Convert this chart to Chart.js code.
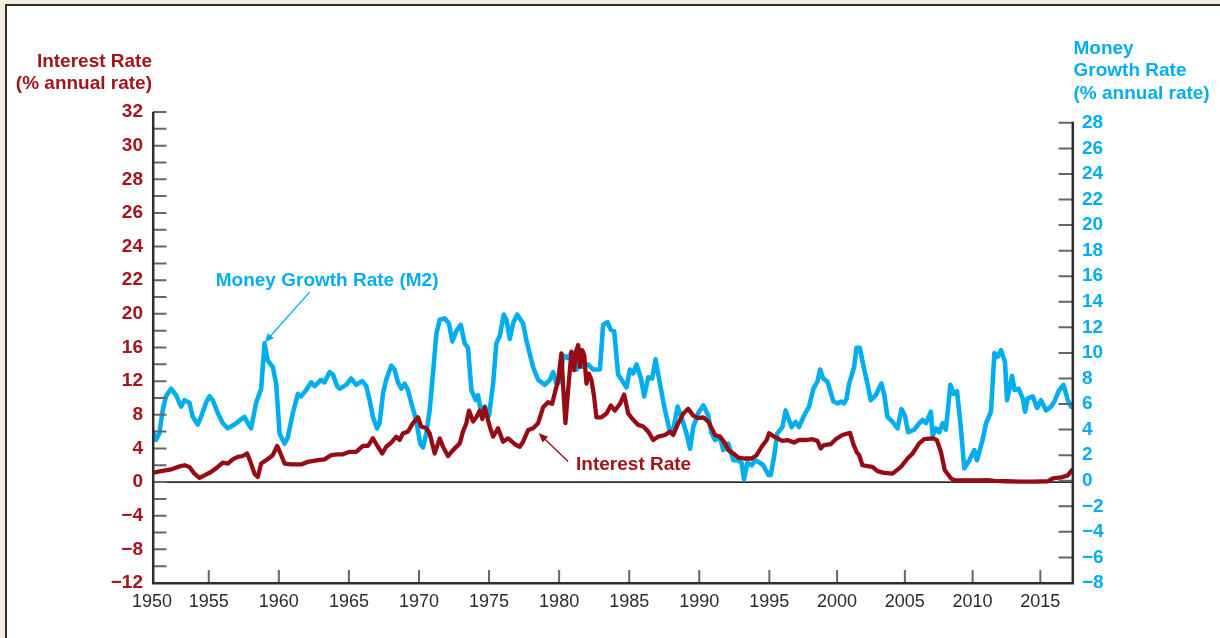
<!DOCTYPE html>
<html>
<head>
<meta charset="utf-8">
<title>Interest Rate and Money Growth Rate</title>
<script src="https://cdn.jsdelivr.net/npm/chart.js@4.4.1/dist/chart.umd.min.js"></script>
<style>
  html, body { margin: 0; padding: 0; background: #f3ede0; }
  #wrap { position: relative; width: 1220px; height: 638px; overflow: hidden; }
  #panel { position: absolute; left: 5px; top: 4px; right: -10px; bottom: -10px;
           background: #ffffff; border-left: 2px solid #2e2e2e; border-top: 2px solid #2e2e2e; }
  #chart { position: absolute; left: 0; top: 0; width: 1220px; height: 638px; }
</style>
</head>
<body>
<div id="wrap">
  <div id="panel"></div>
  <canvas id="chart" width="1220" height="638"></canvas>
</div>
<script>
// ---- Data -------------------------------------------------------------
// Money growth rate (M2), % annual rate
const m2Years = [
  1950.00, 1950.35, 1950.65, 1950.94, 1951.23, 1951.68, 1952.12, 1952.56, 1952.86, 1953.30,
  1953.59, 1954.03, 1954.32, 1954.76, 1955.05, 1955.29, 1955.64, 1956.00, 1956.36, 1956.84,
  1957.19, 1957.55, 1957.79, 1958.02, 1958.38, 1958.74, 1958.98, 1959.21, 1959.57, 1959.81,
  1960.05, 1960.41, 1960.64, 1961.00, 1961.36, 1961.59, 1961.95, 1962.31, 1962.55, 1963.02,
  1963.26, 1963.62, 1963.86, 1964.16, 1964.34, 1964.81, 1965.16, 1965.52, 1965.95, 1966.24,
  1966.48, 1966.71, 1967.00, 1967.19, 1967.43, 1967.66, 1968.02, 1968.26, 1968.50, 1968.74,
  1968.98, 1969.21, 1969.45, 1969.81, 1970.09, 1970.29, 1970.52, 1970.76, 1971.00, 1971.24,
  1971.48, 1971.84, 1972.14, 1972.38, 1972.66, 1972.98, 1973.26, 1973.50, 1973.74, 1974.05,
  1974.21, 1974.41, 1974.69, 1975.00, 1975.29, 1975.52, 1975.76, 1976.05, 1976.24, 1976.48,
  1976.71, 1977.00, 1977.43, 1977.66, 1978.14, 1978.50, 1978.98, 1979.34, 1979.57, 1979.81,
  1980.05, 1980.29, 1980.59, 1980.88, 1981.24, 1981.48, 1981.71, 1982.07, 1982.43, 1982.91,
  1983.14, 1983.45, 1983.69, 1983.93, 1984.21, 1984.57, 1984.81, 1985.05, 1985.29, 1985.52,
  1985.84, 1986.07, 1986.36, 1986.64, 1986.88, 1987.19, 1987.50, 1987.91, 1988.14, 1988.45,
  1988.79, 1989.09, 1989.34, 1989.57, 1989.93, 1990.29, 1990.64, 1990.88, 1991.12, 1991.48,
  1991.71, 1992.07, 1992.43, 1992.79, 1993.02, 1993.19, 1993.43, 1993.74, 1993.98, 1994.34,
  1994.57, 1994.93, 1995.10, 1995.35, 1995.59, 1995.96, 1996.20, 1996.45, 1996.64, 1996.94,
  1997.19, 1997.56, 1997.93, 1998.25, 1998.55, 1998.75, 1998.97, 1999.29, 1999.73, 2000.03,
  2000.27, 2000.52, 2000.69, 2000.89, 2001.26, 2001.43, 2001.67, 2002.00, 2002.24, 2002.48,
  2002.85, 2003.27, 2003.47, 2003.72, 2004.09, 2004.46, 2004.75, 2005.00, 2005.25, 2005.69,
  2006.06, 2006.31, 2006.55, 2006.92, 2007.05, 2007.29, 2007.54, 2007.79, 2008.03, 2008.36,
  2008.60, 2008.85, 2009.10, 2009.39, 2009.76, 2010.13, 2010.32, 2010.74, 2010.99, 2011.36,
  2011.61, 2011.85, 2012.10, 2012.39, 2012.54, 2012.91, 2013.09, 2013.40, 2013.70, 2013.87,
  2014.07, 2014.44, 2014.76, 2015.05, 2015.42, 2015.79, 2016.04, 2016.34, 2016.71, 2017.03,
  2017.27
];
const m2Growth = [
  4.0, 3.2, 3.7, 5.5, 6.6, 7.2, 6.7, 5.8, 6.3, 6.1,
  5.0, 4.4, 5.0, 6.1, 6.6, 6.3, 5.3, 4.5, 4.1, 4.4,
  4.7, 5.0, 4.5, 4.1, 6.1, 7.2, 10.75, 9.4, 8.9, 7.6,
  3.7, 2.9, 3.4, 5.3, 6.8, 6.6, 7.1, 7.7, 7.4, 7.9,
  7.7, 8.5, 8.3, 7.4, 7.2, 7.5, 8.0, 7.5, 7.8, 7.4,
  6.3, 5.0, 4.1, 4.5, 6.8, 7.9, 9.0, 8.7, 7.7, 7.2,
  7.6, 7.1, 6.1, 4.7, 2.9, 2.6, 3.7, 5.5, 8.4, 11.5,
  12.6, 12.7, 12.3, 10.9, 11.7, 12.2, 10.75, 10.4, 7.1, 6.3,
  6.7, 5.5, 5.8, 5.1, 7.6, 10.75, 11.3, 13.0, 12.6, 11.1,
  12.3, 13.0, 12.3, 11.0, 8.9, 7.9, 7.5, 7.9, 8.5, 7.6,
  7.7, 9.8, 9.6, 10.0, 8.7, 10.2, 8.9, 9.1, 8.7, 8.7,
  12.2, 12.4, 11.8, 11.7, 8.3, 7.7, 7.3, 8.7, 8.4, 9.1,
  8.0, 6.6, 8.1, 8.0, 9.5, 7.6, 5.8, 3.8, 4.0, 5.8,
  4.75, 3.7, 2.5, 4.2, 5.3, 5.9, 5.1, 3.7, 3.2, 3.4,
  2.4, 2.9, 1.6, 1.6, 1.4, 0.1, 1.4, 1.2, 1.6, 1.4,
  1.2, 0.45, 0.45, 1.9, 3.7, 4.2, 5.5, 4.75, 4.2, 4.6,
  4.2, 5.1, 5.8, 7.2, 7.75, 8.7, 8.0, 7.75, 6.2, 6.05,
  6.2, 6.05, 6.4, 7.6, 8.9, 10.4, 10.4, 8.7, 7.6, 6.3,
  6.7, 7.6, 6.8, 5.0, 4.6, 4.1, 5.6, 5.1, 3.8, 4.0,
  4.5, 4.75, 4.5, 5.4, 3.5, 4.1, 3.8, 4.5, 4.0, 7.5,
  6.8, 7.0, 4.5, 0.97, 1.6, 2.4, 1.6, 3.2, 4.5, 5.4,
  10.0, 9.7, 10.2, 9.3, 6.3, 8.2, 7.1, 7.2, 6.45, 5.4,
  6.45, 6.6, 5.7, 6.3, 5.5, 5.8, 6.2, 7.0, 7.5, 6.3,
  5.8
];

// Interest rate, % annual rate
const rateYears = [
  1950.00, 1950.79, 1951.68, 1952.27, 1952.86, 1953.30, 1953.74, 1954.18, 1954.62, 1955.16,
  1955.64, 1956.00, 1956.36, 1956.71, 1957.07, 1957.43, 1957.74, 1958.02, 1958.26, 1958.50,
  1958.74, 1959.09, 1959.57, 1959.88, 1960.12, 1960.41, 1960.88, 1961.59, 1962.07, 1962.79,
  1963.26, 1963.74, 1964.16, 1964.57, 1965.05, 1965.52, 1966.00, 1966.36, 1966.71, 1967.07,
  1967.38, 1967.66, 1968.02, 1968.38, 1968.62, 1968.86, 1969.21, 1969.57, 1969.93, 1970.16,
  1970.52, 1970.76, 1971.12, 1971.48, 1971.71, 1972.07, 1972.43, 1972.91, 1973.14, 1973.38,
  1973.57, 1973.86, 1974.09, 1974.34, 1974.52, 1974.69, 1975.05, 1975.29, 1975.64, 1976.00,
  1976.36, 1976.84, 1977.19, 1977.43, 1977.79, 1978.14, 1978.50, 1978.86, 1979.21, 1979.50,
  1979.74, 1979.93, 1980.16, 1980.29, 1980.45, 1980.64, 1980.88, 1981.07, 1981.16, 1981.36,
  1981.48, 1981.64, 1981.79, 1981.95, 1982.12, 1982.31, 1982.50, 1982.66, 1983.02, 1983.38,
  1983.69, 1983.98, 1984.34, 1984.64, 1984.93, 1985.29, 1985.64, 1986.00, 1986.36, 1986.71,
  1987.07, 1987.55, 1987.91, 1988.14, 1988.50, 1988.86, 1989.21, 1989.57, 1989.93, 1990.29,
  1990.64, 1990.76, 1991.12, 1991.48, 1991.84, 1992.07, 1992.43, 1992.79, 1993.26, 1993.74,
  1994.09, 1994.45, 1994.81, 1994.98, 1995.35, 1995.96, 1996.33, 1996.82, 1997.19, 1997.68,
  1998.18, 1998.55, 1998.79, 1999.04, 1999.53, 1999.90, 2000.39, 2000.96, 2001.18, 2001.43,
  2001.63, 2001.87, 2002.24, 2002.61, 2002.98, 2003.47, 2004.09, 2004.71, 2005.20, 2005.57,
  2006.06, 2006.43, 2007.05, 2007.36, 2007.66, 2007.95, 2008.40, 2008.65, 2009.50, 2010.50,
  2011.11, 2011.61, 2012.50, 2013.50, 2014.50, 2015.55, 2015.92, 2016.53, 2017.03, 2017.32
];
const rateLevels = [
  1.1, 1.3, 1.5, 1.8, 2.0, 1.8, 1.0, 0.5, 0.8, 1.2,
  1.8, 2.3, 2.2, 2.7, 3.0, 3.1, 3.4, 2.2, 1.0, 0.6,
  2.2, 2.6, 3.2, 4.3, 3.4, 2.2, 2.1, 2.1, 2.4, 2.6,
  2.7, 3.2, 3.3, 3.3, 3.6, 3.6, 4.3, 4.3, 5.2, 4.2,
  3.4, 4.2, 4.7, 5.4, 5.0, 5.8, 6.0, 7.0, 7.7, 6.6,
  6.4, 5.8, 3.4, 5.2, 4.2, 3.1, 3.8, 4.6, 6.0, 7.0,
  8.5, 7.2, 7.7, 8.5, 7.5, 8.9, 6.6, 5.4, 6.4, 4.8,
  5.2, 4.5, 4.2, 4.8, 6.2, 6.4, 7.0, 8.9, 9.5, 9.3,
  10.9, 12.1, 15.3, 11.3, 7.0, 10.9, 15.5, 13.3, 15.3, 16.3,
  13.7, 15.7, 15.1, 11.7, 12.9, 12.1, 10.1, 7.7, 7.7, 8.15,
  9.1, 8.5, 9.3, 10.4, 8.15, 7.4, 6.8, 6.6, 6.0, 5.0,
  5.4, 5.6, 6.0, 5.6, 7.0, 8.15, 8.7, 7.9, 7.6, 7.7,
  7.2, 6.8, 5.6, 5.4, 4.6, 3.8, 3.4, 2.9, 2.8, 2.8,
  3.2, 4.2, 5.0, 5.8, 5.4, 4.9, 5.0, 4.7, 5.0, 5.0,
  5.1, 4.9, 4.0, 4.4, 4.5, 5.1, 5.6, 5.85, 4.6, 3.6,
  3.2, 2.0, 1.9, 1.8, 1.3, 1.1, 1.0, 1.8, 2.8, 3.4,
  4.6, 5.1, 5.2, 5.0, 3.6, 1.4, 0.45, 0.24, 0.2, 0.2,
  0.24, 0.15, 0.1, 0.06, 0.05, 0.1, 0.45, 0.55, 0.8, 1.4
];

// Axis tick labels
const yearTicks = [1950, 1955, 1960, 1965, 1970, 1975, 1980, 1985, 1990, 1995, 2000, 2005, 2010, 2015];
// left axis: one label per major tick, bottom to top
const rateTickLabels = ['\u221212', '\u22128', '\u22124', '0', '4', '8', '12', '16', '20', '22', '24', '26', '28', '30', '32'];
// right axis: bottom to top
const m2TickLabels = ['\u22128', '\u22126', '\u22124', '\u22122', '0', '2', '4', '6', '8', '10', '12', '14',
                      '16', '18', '20', '22', '24', '26', '28'];

// ---- Styles -----------------------------------------------------------
const RED = '#960c12';
const RED_TEXT = '#a3141c';
const BLUE = '#00aeef';
const AXIS = '#2e2e2e';
const TICK = '#666666';
const FAMILY = '"Liberation Sans", Arial, Helvetica, sans-serif';

// ---- Year axis whose spacing changes across sections of the time line ----
const YEAR_SEGMENTS = [
  { from: 1950, to: 1955, weight: 11.34 },
  { from: 1955, to: 1995, weight: 14.0 },
  { from: 1995, to: 2017.41, weight: 13.535 }
];
function segmentTotal() {
  return YEAR_SEGMENTS.reduce((t, s) => t + (s.to - s.from) * s.weight, 0);
}
function yearToFraction(v) {
  const total = segmentTotal();
  let acc = 0;
  for (const s of YEAR_SEGMENTS) {
    if (v <= s.to) return (acc + (v - s.from) * s.weight) / total;
    acc += (s.to - s.from) * s.weight;
  }
  const last = YEAR_SEGMENTS[YEAR_SEGMENTS.length - 1];
  return (acc + (v - last.to) * last.weight) / total;
}
function fractionToYear(f) {
  const target = f * segmentTotal();
  let acc = 0;
  for (const s of YEAR_SEGMENTS) {
    const len = (s.to - s.from) * s.weight;
    if (target <= acc + len) return s.from + (target - acc) / s.weight;
    acc += len;
  }
  const last = YEAR_SEGMENTS[YEAR_SEGMENTS.length - 1];
  return last.to + (target - acc) / last.weight;
}
class SegmentedYearScale extends Chart.LinearScale {
  getPixelForValue(value) {
    if (value === null || value === undefined || isNaN(value)) return NaN;
    return this.getPixelForDecimal(yearToFraction(value));
  }
  getValueForPixel(pixel) {
    return fractionToYear(this.getDecimalForPixel(pixel));
  }
}
SegmentedYearScale.id = 'segmentedYear';
SegmentedYearScale.defaults = {};
Chart.register(SegmentedYearScale);

// ---- Axes, frame lines, titles and call-outs ---------------------------
function arrow(ctx, x1, y1, x2, y2, color) {
  const ang = Math.atan2(y2 - y1, x2 - x1);
  const head = 9, half = 4;
  ctx.strokeStyle = color;
  ctx.fillStyle = color;
  ctx.lineWidth = 1.3;
  ctx.beginPath();
  ctx.moveTo(x1, y1);
  ctx.lineTo(x2 - Math.cos(ang) * head * 0.8, y2 - Math.sin(ang) * head * 0.8);
  ctx.stroke();
  ctx.beginPath();
  ctx.moveTo(x2, y2);
  ctx.lineTo(x2 - Math.cos(ang) * head + Math.sin(ang) * half, y2 - Math.sin(ang) * head - Math.cos(ang) * half);
  ctx.lineTo(x2 - Math.cos(ang) * head - Math.sin(ang) * half, y2 - Math.sin(ang) * head + Math.cos(ang) * half);
  ctx.closePath();
  ctx.fill();
}

const axisFrame = {
  id: 'axisFrame',
  beforeDatasetsDraw(chart) {
    const { ctx, chartArea: a, scales: { y } } = chart;
    const y0 = y.getPixelForValue(0);
    ctx.save();
    ctx.strokeStyle = AXIS;
    ctx.lineWidth = 1.8;
    ctx.beginPath();
    ctx.moveTo(a.left, y0);
    ctx.lineTo(a.right, y0);
    ctx.stroke();
    ctx.restore();
  },
  afterDraw(chart) {
    const { ctx, chartArea: a, scales: { x, y, y2 } } = chart;
    ctx.save();
    ctx.lineCap = 'butt';

    // tick marks pointing into the plot
    ctx.strokeStyle = TICK;
    ctx.lineWidth = 2;
    ctx.beginPath();
    y.ticks.forEach(t => {
      const py = y.getPixelForValue(t.value);
      ctx.moveTo(a.left + 1, py);
      ctx.lineTo(a.left + 14.5, py);
    });
    y2.ticks.forEach(t => {
      const py = y2.getPixelForValue(t.value);
      ctx.moveTo(a.right - 14.5, py);
      ctx.lineTo(a.right, py);
    });
    x.ticks.forEach((t, i) => {
      if (i === 0) return;
      const px = x.getPixelForValue(t.value);
      ctx.moveTo(px, a.bottom);
      ctx.lineTo(px, a.bottom - 13);
    });
    ctx.stroke();

    // axis lines
    ctx.strokeStyle = AXIS;
    ctx.lineWidth = 2.5;
    const rightTop = y2.getPixelForValue(y2.ticks[y2.ticks.length - 1].value);
    ctx.beginPath();
    ctx.moveTo(a.left + 1.2, a.top);
    ctx.lineTo(a.left + 1.2, a.bottom + 1.5);
    ctx.moveTo(a.left, a.bottom + 0.3);
    ctx.lineTo(a.right + 1, a.bottom + 0.3);
    ctx.moveTo(a.right - 0.2, rightTop - 1);
    ctx.lineTo(a.right - 0.2, a.bottom + 1.5);
    ctx.stroke();

    // axis titles
    ctx.font = 'bold 19px ' + FAMILY;
    ctx.textBaseline = 'middle';
    ctx.fillStyle = RED_TEXT;
    ctx.textAlign = 'right';
    ctx.fillText('Interest Rate', a.left, 62);
    ctx.fillText('(% annual rate)', a.left, 84);
    ctx.fillStyle = BLUE;
    ctx.textAlign = 'left';
    ctx.fillText('Money', a.right + 0.5, 49);
    ctx.fillText('Growth Rate', a.right + 0.5, 71);
    ctx.fillText('(% annual rate)', a.right + 0.5, 93.5);

    // call-outs
    ctx.fillStyle = BLUE;
    ctx.fillText('Money Growth Rate (M2)', x.getPixelForValue(1955.5), y2.getPixelForValue(15.64));
    arrow(ctx, x.getPixelForValue(1962.21), y2.getPixelForValue(14.78),
               x.getPixelForValue(1959.0), y2.getPixelForValue(10.83), BLUE);
    ctx.fillStyle = RED_TEXT;
    ctx.fillText('Interest Rate', x.getPixelForValue(1981.21), y.getPixelForValue(2.03));
    arrow(ctx, x.getPixelForValue(1980.64), y.getPixelForValue(2.45),
               x.getPixelForValue(1978.55), y.getPixelForValue(5.8), RED);
    ctx.restore();
  }
};

// ---- Chart ------------------------------------------------------------
const ratePoints = rateYears.map((yr, i) => ({ x: yr, y: rateLevels[i] }));
const m2Points = m2Years.map((yr, i) => ({ x: yr, y: m2Growth[i] }));

new Chart(document.getElementById('chart'), {
  type: 'line',
  data: {
    datasets: [
      {
        label: 'Interest Rate',
        data: ratePoints,
        yAxisID: 'y',
        borderColor: RED,
        borderWidth: 4.3,
        pointRadius: 0,
        tension: 0,
        borderJoinStyle: 'round',
        borderCapStyle: 'round'
      },
      {
        label: 'Money Growth Rate (M2)',
        data: m2Points,
        yAxisID: 'y2',
        borderColor: BLUE,
        borderWidth: 4.6,
        pointRadius: 0,
        tension: 0,
        borderJoinStyle: 'round',
        borderCapStyle: 'round'
      }
    ]
  },
  options: {
    responsive: false,
    devicePixelRatio: 1,
    animation: false,
    layout: { padding: { top: 112, left: 0, right: 0, bottom: 0 } },
    plugins: { legend: { display: false }, tooltip: { enabled: false } },
    events: [],
    scales: {
      x: {
        type: 'segmentedYear',
        position: 'bottom',
        min: 1950,
        max: 2017.41,
        grid: { display: false, drawTicks: false },
        border: { display: false },
        afterBuildTicks: s => { s.ticks = yearTicks.map(v => ({ value: v })); },
        afterFit: s => { s.height = 55; },
        ticks: {
          autoSkip: false,
          maxRotation: 0,
          padding: 8,
          color: '#2b2b2b',
          font: { family: FAMILY, size: 18 },
          callback: v => String(v)
        }
      },
      y: {
        position: 'left',
        min: -12,
        max: 44,
        grid: { display: false, drawTicks: false },
        border: { display: false },
        afterBuildTicks: s => {
          const t = [];
          for (let v = -12; v <= 44; v += 2) t.push({ value: v });
          s.ticks = t;
        },
        afterFit: s => { s.width = 152; },
        ticks: {
          autoSkip: false,
          padding: 9,
          color: RED_TEXT,
          font: { family: FAMILY, size: 19, weight: 'bold' },
          callback: v => (v % 4 === 0 ? rateTickLabels[(v + 12) / 4] : '')
        }
      },
      y2: {
        position: 'right',
        min: -8,
        max: 28.85,
        grid: { display: false, drawTicks: false },
        border: { display: false },
        afterBuildTicks: s => {
          s.ticks = m2TickLabels.map((_, i) => ({ value: -8 + 2 * i }));
        },
        afterFit: s => { s.width = 147; },
        ticks: {
          autoSkip: false,
          padding: 9,
          color: BLUE,
          font: { family: FAMILY, size: 19, weight: 'bold' },
          callback: v => m2TickLabels[Math.round((v + 8) / 2)]
        }
      }
    }
  },
  plugins: [axisFrame]
});
</script>
</body>
</html>
